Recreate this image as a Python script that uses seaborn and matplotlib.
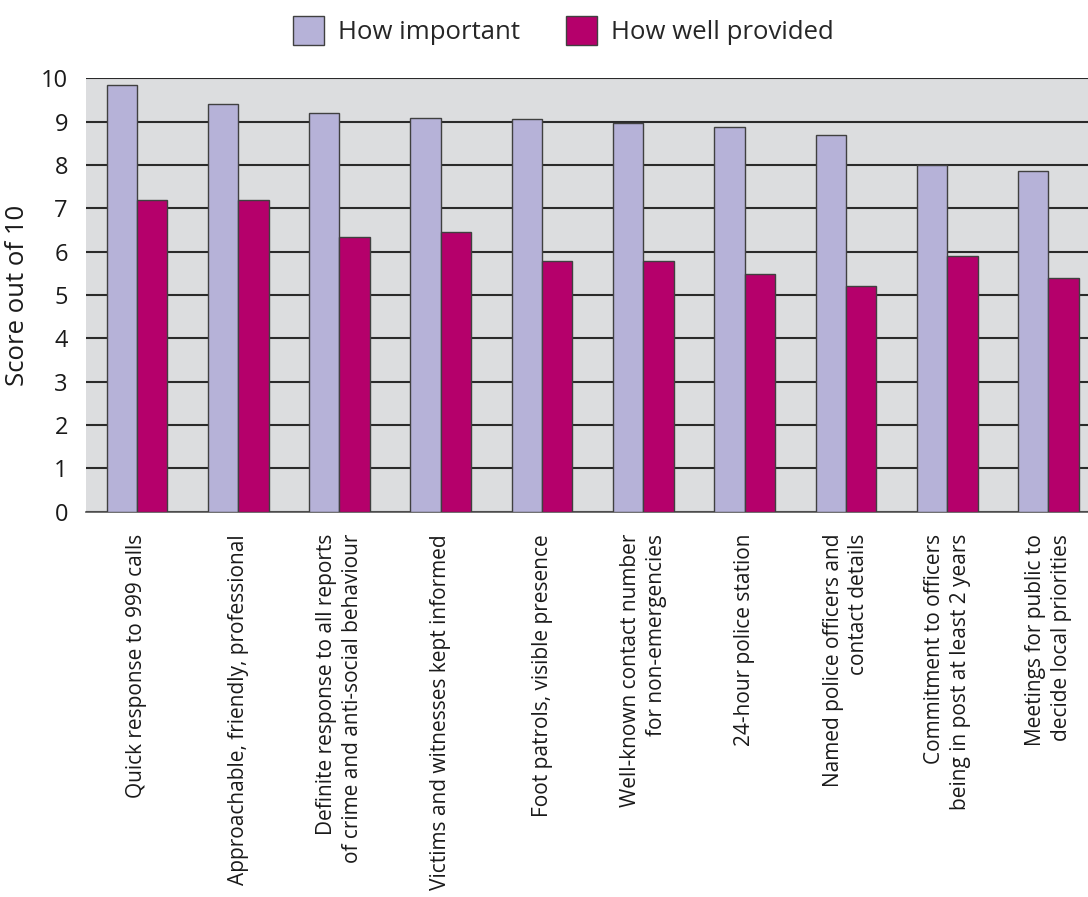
import matplotlib
matplotlib.use("Agg")
import matplotlib.pyplot as plt
import seaborn as sns
import pandas as pd

# Service aspects surveyed
categories = [
    "Quick response to 999 calls",
    "Approachable, friendly, professional",
    "Definite response to all reports\nof crime and anti-social behaviour",
    "Victims and witnesses kept informed",
    "Foot patrols, visible presence",
    "Well-known contact number\nfor non-emergencies",
    "24-hour police station",
    "Named police officers and\ncontact details",
    "Commitment to officers\nbeing in post at least 2 years",
    "Meetings for public to\ndecide local priorities",
]
series_names = ["How important", "How well provided"]
how_important = [9.84, 9.40, 9.21, 9.09, 9.05, 8.97, 8.87, 8.69, 8.01, 7.86]
how_well_provided = [7.19, 7.19, 6.33, 6.45, 5.79, 5.79, 5.49, 5.21, 5.89, 5.39]
y_ticks = [0, 1, 2, 3, 4, 5, 6, 7, 8, 9, 10]

df = pd.DataFrame({
    "category": categories * 2,
    "series": [series_names[0]] * len(categories) + [series_names[1]] * len(categories),
    "score": how_important + how_well_provided,
})

sns.set_theme(style="white")
plt.rcParams["font.family"] = ["Open Sans", "DejaVu Sans"]

fig = plt.figure(figsize=(10.88, 8.97), dpi=100)
ax = fig.add_axes([0.079, 1 - 511.7 / 897, 1 - 0.079, (511.7 - 78.3) / 897])

palette = {"How important": "#b6b2d8", "How well provided": "#b5006b"}
sns.barplot(
    data=df, x="category", y="score", hue="series", order=categories,
    hue_order=series_names, palette=palette, width=0.6, gap=0,
    edgecolor="#404040", linewidth=1.0, saturation=1, ax=ax, zorder=3,
)

ax.set_facecolor("#dcdddf")
ax.set_ylim(0, 10)
ax.set_xlim(-0.503, 9.39)
ax.set_yticks(y_ticks)
ax.yaxis.grid(True, color="#2a2a2a", linewidth=1.5, zorder=1)
ax.set_axisbelow(True)
for side in ["left", "right", "top"]:
    ax.spines[side].set_visible(False)
ax.spines["bottom"].set_color("#555555")
ax.spines["bottom"].set_linewidth(1.2)

ax.tick_params(axis="y", labelsize=17, length=0, pad=13, colors="#1a1a1a")
ax.tick_params(axis="x", length=0, pad=16)
ax.set_xticks(range(len(categories)))
ax.set_xticklabels(categories, rotation=90, ha="center", va="top",
                   fontsize=15, color="#1a1a1a", multialignment="right",
                   linespacing=1.3)

ax.set_xlabel("")
ax.set_ylabel("Score out of 10", fontsize=18.5, color="#1a1a1a", labelpad=8)

handles, labels = ax.get_legend_handles_labels()
ax.legend_.remove()
fig.legend(handles, labels, loc="center", bbox_to_anchor=(0.518, 0.966),
           ncol=2, frameon=False, fontsize=18.5, handlelength=1.2,
           handleheight=1.37, handletextpad=0.55, columnspacing=1.8)

fig.savefig("out.png", dpi=100)
